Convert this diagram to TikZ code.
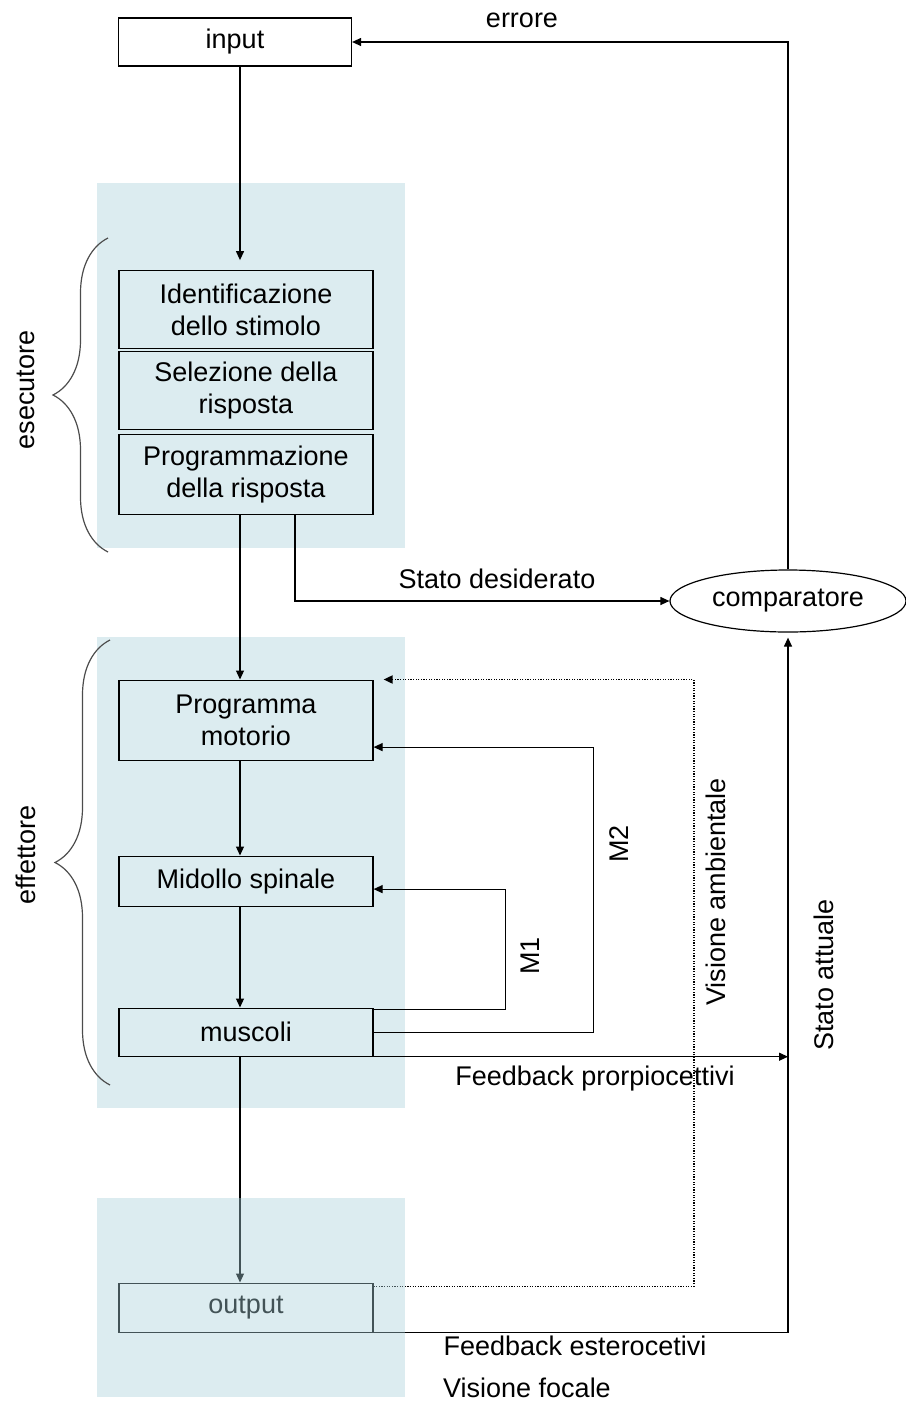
\documentclass[tikz,border=0pt]{standalone}
\usepackage{fontspec}
\setmainfont{Liberation Sans}
\usetikzlibrary{arrows.meta,positioning,decorations.pathreplacing,shapes.geometric}
\definecolor{panelblue}{RGB}{220,236,240}
\definecolor{panelveil}{RGB}{168,208,218}

\begin{document}
\begin{tikzpicture}[x=0.5pt,y=-0.5pt,
  every node/.style={font=\fontsize{13.5}{16}\selectfont,align=center},
  box/.style={draw,line width=0.6pt,minimum width=127pt,inner sep=2pt},
  panel/.style={fill=panelblue,draw=none},
  lbl/.style={inner sep=0pt},
  arr/.style={-{Triangle[length=4.5pt,width=4pt]},line width=0.6pt},
  dotarr/.style={-{Triangle[length=4.5pt,width=4pt]},line width=0.9pt,dash pattern=on 0.6pt off 0.7pt},
  curly/.style={decorate,decoration={brace,amplitude=27.5pt},line width=0.6pt,draw=black!70}
]
\useasboundingbox (0,0) rectangle (905,1403);
\fill[panel] (97,183) rectangle (405,548);
\fill[panel] (97,637) rectangle (405,1108);

\node[box,minimum width=116.5pt,minimum height=24pt] (input) at (235,42) {input};
\node[box,minimum height=38.8pt] (ident) at (246,309.5) {Identificazione\\dello stimolo};
\node[box,minimum height=38.7pt,below=1.1pt of ident] (selez) {Selezione della\\risposta};
\node[box,minimum height=40pt,below=1.9pt of selez] (progr) {Programmazione\\della risposta};
\node[box,minimum height=40pt,below=82.4pt of progr] (progmot) {Programma\\motorio};
\node[box,minimum height=25pt,below=47.4pt of progmot] (midollo) {Midollo spinale};
\node[box,minimum height=24pt,below=50.4pt of midollo] (muscoli) {muscoli};
\node[box,minimum height=24.5pt,below=112.9pt of muscoli] (output) {output};
\node[draw,ellipse,line width=0.6pt,minimum width=118pt,minimum height=31pt,inner sep=0pt] (comp) at (788,601) {comparatore};

\draw[arr,shorten >=5pt] ([xshift=2.5pt]input.south) -- ([xshift=-3pt]ident.north);
\draw[arr] ([xshift=-3pt]progr.south) -- ([xshift=-3pt]progmot.north);
\draw[arr] ([xshift=-3pt]progmot.south) -- ([xshift=-3pt]midollo.north);
\draw[arr] ([xshift=-3pt]midollo.south) -- ([xshift=-3pt]muscoli.north);
\draw[arr] ([xshift=-3pt]muscoli.south) -- ([xshift=-3pt]output.north);
\draw[arr] ([xshift=24.5pt]progr.south) |- (comp.west);
\draw[arr] (comp.north) |- (input.east);
\draw[arr] ([yshift=-1pt]muscoli.north east) -- ++(66pt,0) |- ([yshift=-4pt]midollo.east);
\draw[arr] (muscoli.east) -- ++(110pt,0) |- ([yshift=-13.5pt]progmot.east);
\draw[arr] (muscoli.south east) -- (muscoli.south east -| comp.south);
\draw[dotarr] ([yshift=-2pt]output.north east) -- ++(160pt,0) |- ([xshift=5pt]progmot.north east);
\draw[arr,shorten >=2.5pt] (output.south east) -| (comp.south);

\fill[panelveil,fill opacity=0.4] (97,1198) rectangle (405,1397);

\node[lbl] (lerr) at (522,20) {errore};
\node[lbl] (ldes) at (497,579) {Stato desiderato};
\node[lbl,rotate=90] (lm2) at (619,844) {M2};
\node[lbl,rotate=90] (lm1) at (530,956) {M1};
\node[lbl,rotate=90] (lamb) at (716,892) {Visione ambientale};
\node[lbl,rotate=90] (latt) at (824,975) {Stato attuale};
\node[lbl] (lprop) at (595,1079) {Feedback prorpiocettivi};
\node[lbl] (lest) at (575,1346) {Feedback esterocetivi};
\node[lbl] (lfoc) at (527,1388) {Visione focale};
\node[lbl,rotate=90] (lese) at (26,390) {esecutore};
\node[lbl,rotate=90] (leff) at (26,855) {effettore};

\draw[curly] (108,552) -- (108,238);
\draw[curly] (110,1085) -- (110,640);
\end{tikzpicture}
\end{document}
